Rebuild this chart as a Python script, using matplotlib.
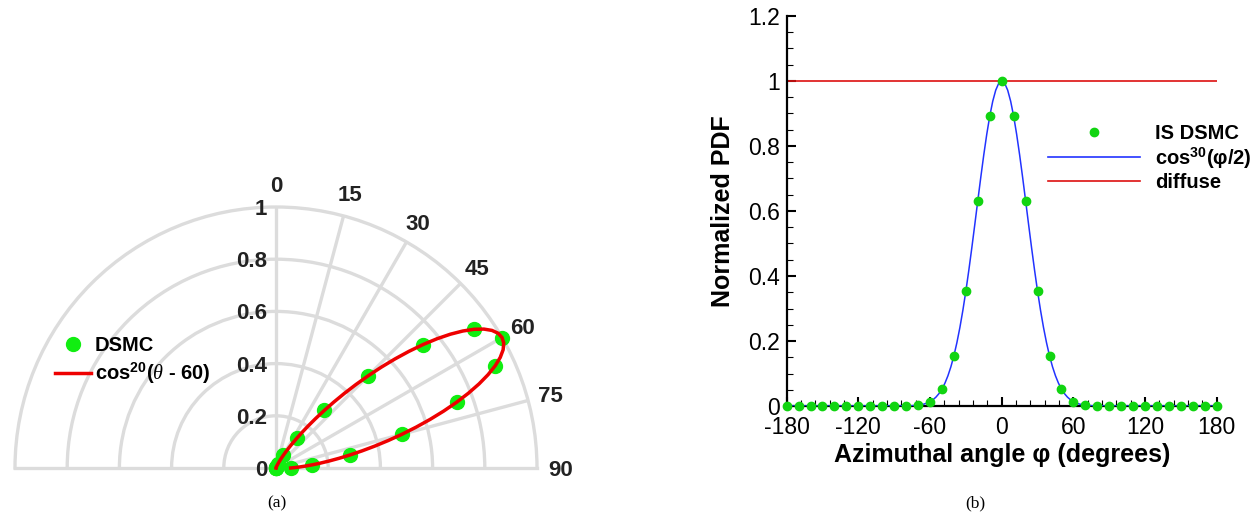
import numpy as np
import matplotlib
matplotlib.use("Agg")
import matplotlib.pyplot as plt
from matplotlib.lines import Line2D
from matplotlib.ticker import MultipleLocator, FixedLocator, FixedFormatter
from matplotlib.transforms import offset_copy

plt.rcParams['font.family'] = ['Liberation Sans', 'DejaVu Sans']
plt.rcParams['mathtext.fontset'] = 'custom'
plt.rcParams['mathtext.rm'] = 'Liberation Sans:bold'
plt.rcParams['mathtext.bf'] = 'Liberation Sans:bold'
plt.rcParams['mathtext.it'] = 'Liberation Serif:italic'

# ---------------- data: (a) polar lobe ----------------
theta_dsmc_deg = np.arange(0, 91, 5)
r_dsmc = [0.0, 0.0, 0.0, 0.001, 0.005, 0.019, 0.056, 0.140, 0.288, 0.500,
          0.736, 0.927, 1.000, 0.927, 0.736, 0.500, 0.288, 0.140, 0.056]

theta_curve_deg = np.arange(0, 90.01, 1.25)
r_curve = [0.0, 0.0, 0.0, 0.0, 0.0, 0.0, 0.0, 0.0001,
           0.0001, 0.0002, 0.0004, 0.0006, 0.0010, 0.0015, 0.0023, 0.0033,
           0.0048, 0.0069, 0.0098, 0.0135, 0.0185, 0.0250, 0.0332, 0.0435,
           0.0563, 0.0720, 0.0909, 0.1134, 0.1398, 0.1704, 0.2053, 0.2446,
           0.2882, 0.3360, 0.3876, 0.4425, 0.4999, 0.5591, 0.6189, 0.6784,
           0.7362, 0.7912, 0.8421, 0.8876, 0.9266, 0.9580, 0.9811, 0.9953,
           1.0,
           0.9953, 0.9811, 0.9580, 0.9266, 0.8876, 0.8421, 0.7912, 0.7362,
           0.6784, 0.6189, 0.5591, 0.4999, 0.4425, 0.3876, 0.3360, 0.2882,
           0.2446, 0.2053, 0.1704, 0.1398, 0.1134, 0.0909, 0.0720, 0.0563]

polar_angle_ticks = [0, 15, 30, 45, 60, 75, 90]
polar_r_ticks = [0, 0.2, 0.4, 0.6, 0.8, 1.0]
polar_r_labels = ['0', '0.2', '0.4', '0.6', '0.8', '1']
legend_a_labels = ['DSMC', r'cos$^{20}$($\theta$ - 60)']

# ---------------- data: (b) azimuthal PDF ----------------
phi_dsmc = np.arange(-180, 181, 10)
pdf_dsmc = [0, 0, 0, 0, 0, 0, 0, 0, 0, 0, 0,
            0.002, 0.013, 0.052, 0.155, 0.353, 0.632, 0.892,
            1.0,
            0.892, 0.632, 0.353, 0.155, 0.052, 0.013, 0.002,
            0, 0, 0, 0, 0, 0, 0, 0, 0, 0, 0]

phi_curve = np.concatenate(([-180], np.arange(-80, 80.01, 2.5), [180]))
pdf_curve = [0.0,
             0.0003, 0.0006, 0.0010, 0.0016, 0.0025, 0.0039, 0.0060, 0.0091,
             0.0134, 0.0193, 0.0274, 0.0382, 0.0523, 0.0703, 0.0930, 0.1209,
             0.1547, 0.1948, 0.2413, 0.2943, 0.3534, 0.4180, 0.4869, 0.5588,
             0.6318, 0.7038, 0.7728, 0.8362, 0.8919, 0.9377, 0.9718, 0.9929,
             1.0,
             0.9929, 0.9718, 0.9377, 0.8919, 0.8362, 0.7728, 0.7038, 0.6318,
             0.5588, 0.4869, 0.4180, 0.3534, 0.2943, 0.2413, 0.1948, 0.1547,
             0.1209, 0.0930, 0.0703, 0.0523, 0.0382, 0.0274, 0.0193, 0.0134,
             0.0091, 0.0060, 0.0039, 0.0025, 0.0016, 0.0010, 0.0006, 0.0003,
             0.0]
phi_diffuse = [-180, 180]
pdf_diffuse = [1.0, 1.0]

x_ticks = [-180, -120, -60, 0, 60, 120, 180]
x_tick_labels = ['-180', '-120', '-60', '0', '60', '120', '180']
y_ticks = [0, 0.2, 0.4, 0.6, 0.8, 1.0, 1.2]
y_tick_labels = ['0', '0.2', '0.4', '0.6', '0.8', '1', '1.2']
legend_b_labels = ['IS DSMC', r'cos$^{30}$(φ/2)', 'diffuse']

# ---------------- figure ----------------
W, H = 1254, 518
fig = plt.figure(figsize=(W / 100, H / 100), dpi=100)

GRID = '#dcdcdc'
GREEN_A = '#11ee11'
GREEN_B = '#11d411'
RED_A = '#ee0000'

# ---- (a) polar: half-disc of radius R, origin at (cx, cy) pixels ----
# matplotlib centres the half-disc inside a square box, so the square box
# is centred half a radius above the origin.
cx, cy, R = 276, 468, 261
ax = fig.add_axes([(cx - R) / W, (H - cy - R / 2) / H, 2 * R / W, 2 * R / H],
                  projection='polar')
ax.set_theta_zero_location('N')
ax.set_theta_direction(-1)
ax.set_thetamin(-90)
ax.set_thetamax(90)
ax.set_ylim(0, 1)
ax.set_rgrids([0.2, 0.4, 0.6, 0.8], labels=[''] * 4)
ax.set_thetagrids([0, 15, 30, 45, 60, 75], labels=[''] * 6)
ax.grid(True, color=GRID, linewidth=2.4)
ax.tick_params(length=0)
for sp in ax.spines.values():
    sp.set_color(GRID)
    sp.set_linewidth(2.4)
ax.set_facecolor('none')

ax.plot(np.deg2rad(theta_dsmc_deg), r_dsmc, 'o', color=GREEN_A, ms=10,
        clip_on=False, zorder=3)
ax.plot(np.deg2rad(theta_curve_deg), r_curve, '-', color=RED_A, lw=2.5,
        clip_on=False, zorder=4)

lbl_trans = offset_copy(ax.transData, fig=fig, x=-9, y=0, units='dots')
for r, s in zip(polar_r_ticks, polar_r_labels):
    ax.text(0, r, s, transform=lbl_trans, ha='right', va='center_baseline',
            fontsize=16, fontweight='bold', color='#222222')
for a in polar_angle_ticks:
    ax.text(np.deg2rad(a), 1.09, str(a), ha='center', va='center_baseline',
            fontsize=16, fontweight='bold', color='#222222')

handles_a = [Line2D([], [], marker='o', ls='none', color=GREEN_A, ms=10),
             Line2D([], [], color=RED_A, lw=2.5)]
fig.legend(handles_a, legend_a_labels, loc='upper left',
           bbox_to_anchor=(55 / W, (H - 336) / H), frameon=False,
           prop={'size': 14.5, 'weight': 'bold'}, handlelength=1.78,
           handletextpad=0.2, labelspacing=0.3, borderpad=0,
           borderaxespad=0)

# ---- (b) cartesian ----
ax2 = fig.add_axes([786.6 / W, (H - 406) / H, 430.2 / W, 390 / H])
ax2.plot(phi_diffuse, pdf_diffuse, color='#dd1111', lw=1.2, zorder=2)
ax2.plot(phi_curve, pdf_curve, color='#2233ff', lw=1.1, zorder=3)
ax2.plot(phi_dsmc, pdf_dsmc, 'o', color=GREEN_B, ms=6, clip_on=False,
         zorder=4)
ax2.set_xlim(-180, 180)
ax2.set_ylim(0, 1.2)
ax2.xaxis.set_major_locator(FixedLocator(x_ticks))
ax2.xaxis.set_major_formatter(FixedFormatter(x_tick_labels))
ax2.yaxis.set_major_locator(FixedLocator(y_ticks))
ax2.yaxis.set_major_formatter(FixedFormatter(y_tick_labels))
ax2.xaxis.set_minor_locator(MultipleLocator(12))
ax2.yaxis.set_minor_locator(MultipleLocator(0.05))
ax2.spines['top'].set_visible(False)
ax2.spines['right'].set_visible(False)
for s in ('left', 'bottom'):
    ax2.spines[s].set_linewidth(1.6)
ax2.tick_params(which='major', direction='in', length=6.5, width=1.5,
                labelsize=16.5)
ax2.tick_params(which='minor', direction='in', length=4, width=0.8)
ax2.tick_params(axis='x', which='major', pad=7.5)
ax2.tick_params(axis='y', which='major', pad=5)
ax2.set_xlabel('Azimuthal angle φ (degrees)', fontsize=18, fontweight='bold')
ax2.set_ylabel('Normalized PDF', fontsize=18, fontweight='bold')
ax2.xaxis.set_label_coords(0.5, -0.096)
ax2.yaxis.set_label_coords(-0.12, 0.5)

handles_b = [Line2D([], [], marker='o', ls='none', color=GREEN_B, ms=6),
             Line2D([], [], color='#2233ff', lw=1.2),
             Line2D([], [], color='#dd1111', lw=1.2)]
fig.legend(handles_b, legend_b_labels, loc='upper left',
           bbox_to_anchor=(1048 / W, (H - 124) / H), frameon=False,
           prop={'size': 14.5, 'weight': 'bold'}, handlelength=4.55,
           handletextpad=0.75, labelspacing=0.12, borderpad=0,
           borderaxespad=0)

# ---- captions ----
fig.text(277 / W, 1 - 503 / H, '(a)', ha='center', va='center',
         family='Liberation Serif', fontsize=12.5)
fig.text(975 / W, 1 - 503 / H, '(b)', ha='center', va='center',
         family='Liberation Serif', fontsize=12.5)

fig.savefig('out.png', dpi=100)
